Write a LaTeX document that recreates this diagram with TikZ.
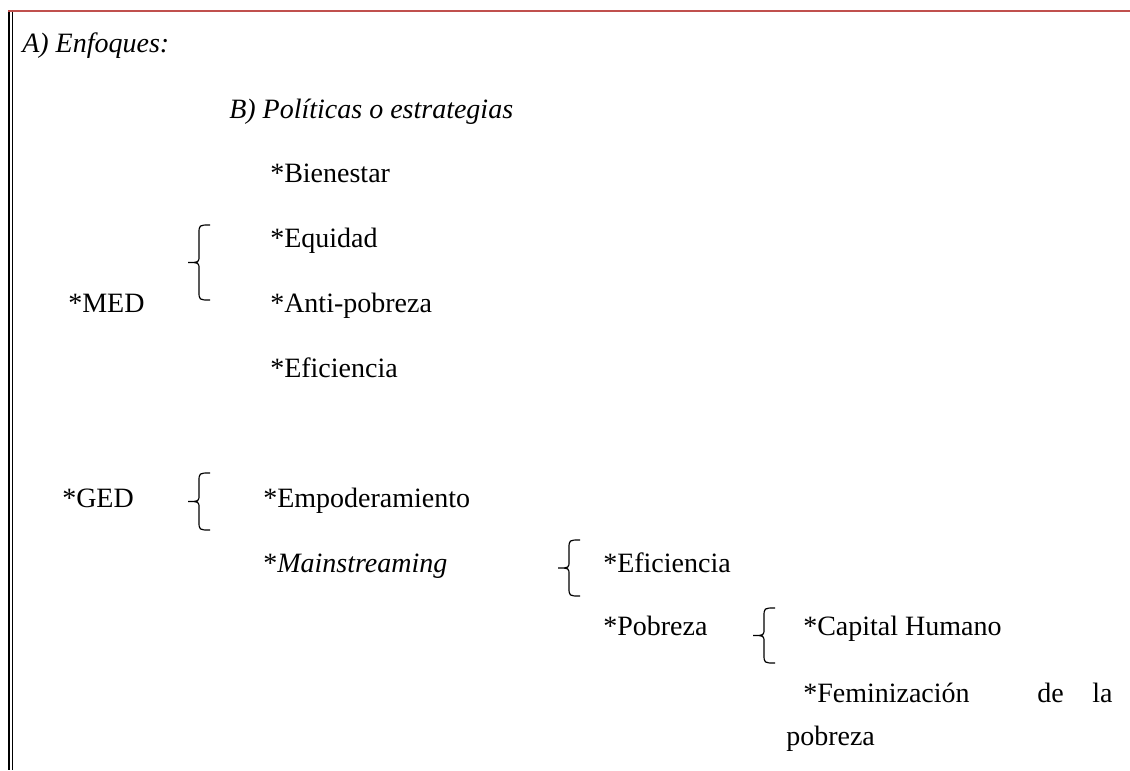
\documentclass[tikz,border=0pt]{standalone}
\usepackage{fontspec}
\setmainfont{Liberation Serif}
\definecolor{lineared}{HTML}{C0504D}
\tikzset{
  txt/.style={anchor=base west, inner sep=0pt, font=\fontsize{21}{25}\selectfont},
  llave/.style={line width=0.9pt}
}
% left curly brace: tip x, vertical x, end x, top y, bottom y
\newcommand{\llavecurva}[5]{%
  \draw[llave] (#3,#4) .. controls (#2,#4) .. (#2,#4+9)
    -- (#2,{(#4+#5)/2-7}) .. controls (#2,{(#4+#5)/2}) .. (#1,{(#4+#5)/2})
    .. controls (#2,{(#4+#5)/2}) .. (#2,{(#4+#5)/2+7})
    -- (#2,#5-9) .. controls (#2,#5) .. (#3,#5);}
\begin{document}
\begin{tikzpicture}[x=0.75pt,y=-0.75pt]
\useasboundingbox (0,0) rectangle (1130,770);
% frame
\draw[lineared, line width=2pt] (8,11) -- (1130,11);
\draw[line width=1.5pt] (9,12) -- (9,770);
\draw[line width=0.8pt] (12.5,12) -- (12.5,770);
% headings
\node[txt] (enfoques) at (22,53) {\itshape A) Enfoques:};
\node[txt] (politicas) at (229,118) {\itshape B) Políticas o estrategias};
% MED
\node[txt] (bienestar) at (270,182) {*Bienestar};
\node[txt] (equidad) at (270,247) {*Equidad};
\node[txt] (med) at (68,312) {*MED};
\node[txt] (antipobreza) at (270,312) {*Anti-pobreza};
\node[txt] (eficiencia) at (270,377) {*Eficiencia};
\llavecurva{188}{199}{210}{225}{300}
% GED
\node[txt] (ged) at (62,507) {*GED};
\node[txt] (empoderamiento) at (263,507) {*Empoderamiento};
\llavecurva{188}{199}{210}{473}{530}
\node[txt] (mainstreaming) at (263,572) {*\textit{Mainstreaming}};
\llavecurva{558}{569}{580}{540}{596}
\node[txt] (eficienciados) at (603,572) {*Eficiencia};
\node[txt] (pobreza) at (603,635) {*Pobreza};
\llavecurva{753}{764}{775}{608}{663}
\node[txt] (capital) at (803,635) {*Capital Humano};
\node[txt] (feminizacion) at (803,702) {*Feminización};
\node[txt] (de) at (1037,702) {de};
\node[txt] (la) at (1092,702) {la};
\node[txt] (pobrezados) at (786,745) {pobreza};
\end{tikzpicture}
\end{document}
